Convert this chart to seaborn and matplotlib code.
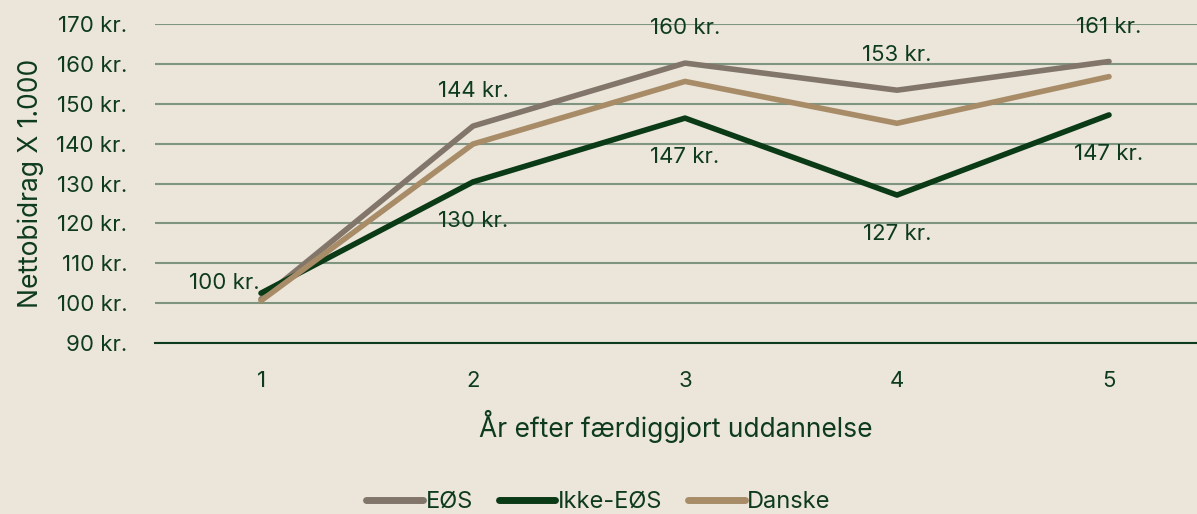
import matplotlib
matplotlib.use('Agg')
import matplotlib.pyplot as plt
import pandas as pd
import seaborn as sns

years = [1, 2, 3, 4, 5]
eos = [101, 144.4, 160.2, 153.4, 160.6]
ikke_eos = [102.5, 130.4, 146.4, 127.1, 147.2]
danske = [100.6, 139.9, 155.6, 145.1, 156.8]
series = ['EØS', 'Ikke-EØS', 'Danske']
eos_labels = ['', '144 kr.', '160 kr.', '153 kr.', '161 kr.']
ikke_labels = ['100 kr.', '130 kr.', '147 kr.', '127 kr.', '147 kr.']

bg = '#ebe5da'
txt = '#0e3b1e'
colors = ['#82766b', '#0b3a16', '#a88c68']

df = pd.DataFrame({
    'year': years * 3,
    'value': eos + ikke_eos + danske,
    'serie': [s for s in series for _ in years],
})

sns.set_style('white')
plt.rcParams['font.family'] = ['Inter', 'DejaVu Sans']
plt.rcParams['text.color'] = txt

fig = plt.figure(figsize=(11.97, 5.14), dpi=100, facecolor=bg)
ax = fig.add_axes([155 / 1197, 1 - 343 / 514, 1 - 155 / 1197, (343 - 24) / 514])
ax.set_facecolor(bg)

sns.lineplot(data=df, x='year', y='value', hue='serie', hue_order=series,
             palette=colors, linewidth=4, ax=ax, legend=False,
             solid_capstyle='round')

ax.set_ylim(90, 170)
ax.set_xlim(0.5, 5.415)
ax.set_yticks(range(90, 171, 10))
ax.set_yticklabels([f'{v} kr.' for v in range(90, 171, 10)])
ax.set_xticks(years)
ax.grid(axis='y', color='#7f957f', linewidth=1.5)
ax.set_axisbelow(True)
for s in ['top', 'right', 'left']:
    ax.spines[s].set_visible(False)
ax.spines['bottom'].set_color(txt)
ax.spines['bottom'].set_linewidth(1.5)
ax.tick_params(axis='y', length=0, pad=20, labelsize=16, labelcolor=txt)
ax.tick_params(axis='x', length=0, pad=20, labelsize=16, labelcolor=txt)
ax.set_xlabel('År efter færdiggjort uddannelse', fontsize=19, color=txt, labelpad=14)
ax.set_ylabel('Nettobidrag X 1.000', fontsize=19, color=txt, labelpad=9)

for x, y, lab in zip(years, eos, eos_labels):
    if lab:
        ax.annotate(lab, (x, y), xytext=(0, 25), textcoords='offset points',
                    ha='center', va='center', fontsize=16, color=txt)
for i, (x, y, lab) in enumerate(zip(years, ikke_eos, ikke_labels)):
    if i == 0:
        ax.annotate(lab, (x, y), xytext=(-1, 7), textcoords='offset points',
                    ha='right', va='center', fontsize=16, color=txt)
    else:
        ax.annotate(lab, (x, y), xytext=(0, -28), textcoords='offset points',
                    ha='center', va='center', fontsize=16, color=txt)

handles = [plt.Line2D([], [], color=c, linewidth=5, solid_capstyle='round') for c in colors]
fig.legend(handles, series, loc='center', bbox_to_anchor=(0.5, 1 - 502 / 514),
           ncol=3, frameon=False, fontsize=17, handlelength=2.4,
           handletextpad=0.1, columnspacing=1.1, labelcolor=txt)

fig.savefig('out.png', dpi=100, facecolor=bg)
